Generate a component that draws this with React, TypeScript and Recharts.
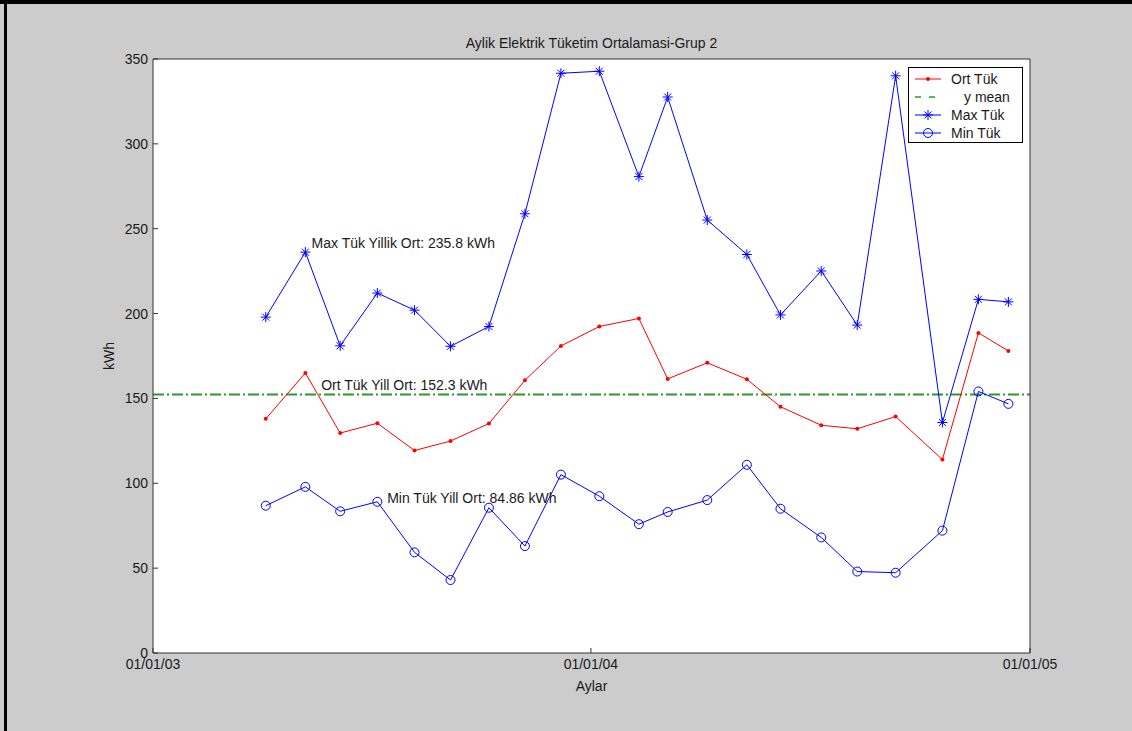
import { LineChart, Line, XAxis, YAxis, CartesianGrid, ReferenceLine, ReferenceDot } from 'recharts'

const dates = [
  '2003-04-05', '2003-05-08', '2003-06-06', '2003-07-07', '2003-08-07', '2003-09-06', '2003-10-08',
  '2003-11-07', '2003-12-07', '2004-01-08', '2004-02-10', '2004-03-05', '2004-04-07', '2004-05-10',
  '2004-06-07', '2004-07-11', '2004-08-10', '2004-09-11', '2004-10-20', '2004-11-19', '2004-12-14',
]
const ortTuk = [138, 165, 129.6, 135.4, 119.3, 124.9, 135.2, 160.7, 180.9, 192.4, 197.1, 161.5, 171, 161.3, 145.1, 134.2, 132.1, 139.3, 114, 188.6, 178]
const maxTuk = [197.9, 236.2, 181, 212.1, 202, 180.7, 192.4, 258.8, 341.6, 342.8, 280.7, 327.6, 255.1, 234.8, 199.2, 225.1, 193.2, 340.1, 135.8, 208.4, 206.9]
const minTuk = [86.8, 97.9, 83.5, 89.1, 59.3, 43, 85.6, 63, 105.1, 92.4, 75.9, 83.1, 90.1, 110.9, 85, 68.1, 48, 47.3, 72.1, 154.1, 146.8]
const yMean = 152.3

const xTickDates = ['2003-01-01', '2004-01-01', '2005-01-01']
const yTicks = [0, 50, 100, 150, 200, 250, 300, 350]

const notes = [
  { date: '2003-05-09', value: 241.8, text: 'Max Tük Yillik Ort: 235.8 kWh' },
  { date: '2003-05-17', value: 157.9, text: 'Ort Tük Yill Ort: 152.3 kWh' },
  { date: '2003-07-11', value: 91.5, text: 'Min Tük Yill Ort: 84.86 kWh' },
]

const ts = (d: string) => Date.parse(d + 'T00:00:00Z')
const xTicks = xTickDates.map(ts)
const data = dates.map((d, i) => ({ t: ts(d), ort: ortTuk[i], max: maxTuk[i], min: minTuk[i] }))

const fmtDate = (v: number) => {
  const d = new Date(v)
  const p = (n: number) => String(n).padStart(2, '0')
  return `${p(d.getUTCMonth() + 1)}/${p(d.getUTCDate())}/${p(d.getUTCFullYear() % 100)}`
}

const FONT = '"Liberation Sans", Arial, sans-serif'
const FS = 14
const TXT = '#1a1a1a'
const AX = '#333'
const BLUE = '#0000ff'
const RED = '#ff0000'
const GREEN = '#2f962f'

function Star(props: any) {
  const { cx, cy } = props
  if (cx == null || cy == null) return null
  const a = 5, b = 3.5
  return (
    <g stroke={BLUE} strokeWidth={1}>
      <line x1={cx - a} y1={cy} x2={cx + a} y2={cy} />
      <line x1={cx} y1={cy - a} x2={cx} y2={cy + a} />
      <line x1={cx - b} y1={cy - b} x2={cx + b} y2={cy + b} />
      <line x1={cx - b} y1={cy + b} x2={cx + b} y2={cy - b} />
    </g>
  )
}

function LegendBox() {
  const rows = [
    { name: 'Ort Tük', indent: 0, icon: <><line x1={0} y1={6} x2={26} y2={6} stroke={RED} /><circle cx={13} cy={6} r={2} fill={RED} /></> },
    { name: 'y mean', indent: 13, icon: <line x1={0} y1={6} x2={26} y2={6} stroke={GREEN} strokeWidth={1.5} strokeDasharray="6 8" /> },
    { name: 'Max Tük', indent: 0, icon: <><line x1={0} y1={6} x2={26} y2={6} stroke={BLUE} /><Star cx={13} cy={6} /></> },
    { name: 'Min Tük', indent: 0, icon: <><line x1={0} y1={6} x2={26} y2={6} stroke={BLUE} /><circle cx={13} cy={6} r={4.5} fill="none" stroke={BLUE} /></> },
  ]
  return (
    <div style={{ position: 'absolute', left: 908, top: 67, width: 115, height: 76, border: '1px solid #000', background: '#fff', boxSizing: 'border-box' }}>
      {rows.map((r, i) => (
        <div key={r.name} style={{ position: 'absolute', left: 6, top: 4 + i * 18, height: 14, display: 'flex', alignItems: 'center' }}>
          <svg width={26} height={12} style={{ overflow: 'visible' }}>{r.icon}</svg>
          <span style={{ marginLeft: 10 + r.indent, fontFamily: FONT, fontSize: FS, color: TXT, whiteSpace: 'nowrap' }}>{r.name}</span>
        </div>
      ))}
    </div>
  )
}

export default function App() {
  const tickStyle = { fontFamily: FONT, fontSize: FS, fill: TXT }
  return (
    <div style={{ position: 'absolute', left: 0, top: 0, width: 1132, height: 731, background: '#cccccc', overflow: 'hidden' }}>
      <div style={{ position: 'absolute', left: 0, top: 0, width: 1132, height: 4, background: '#000' }} />
      <div style={{ position: 'absolute', left: 4, top: 0, width: 3, height: 731, background: '#000' }} />
      <div style={{ position: 'absolute', left: 153, width: 877, top: 35, textAlign: 'center', fontFamily: FONT, fontSize: FS, color: TXT }}>
        Aylik Elektrik Tüketim Ortalamasi-Grup 2
      </div>
      <div style={{ position: 'absolute', left: 0, top: 0 }}>
        <LineChart width={1132} height={731} data={data} margin={{ top: 58, right: 101, bottom: 40, left: 93 }}>
          <rect x={153} y={59} width={877} height={594} fill="#fff" />
          <CartesianGrid stroke="#222" strokeDasharray="3 2" horizontalValues={yTicks.slice(1, -1)} verticalValues={xTicks.slice(1, -1)} />
          <XAxis dataKey="t" type="number" domain={[xTicks[0], xTicks[2]]} ticks={xTicks} tickFormatter={fmtDate}
            height={38} tickSize={-5} tickMargin={11} stroke={AX} tick={tickStyle} allowDataOverflow
            label={{ value: 'Aylar', position: 'insideBottom', offset: 0, style: { fontFamily: FONT, fontSize: FS, fill: TXT } }} />
          <XAxis xAxisId="top" orientation="top" dataKey="t" type="number" domain={[xTicks[0], xTicks[2]]} ticks={xTicks}
            height={1} tickSize={-5} tick={false} stroke={AX} allowDataOverflow />
          <YAxis domain={[0, 350]} ticks={yTicks} width={60} tickSize={-5} tickMargin={10} stroke={AX} tick={tickStyle}
            label={{ value: 'kWh', angle: -90, position: 'insideLeft', offset: 16, style: { textAnchor: 'middle', fontFamily: FONT, fontSize: FS, fill: TXT } }} />
          <YAxis yAxisId="right" orientation="right" domain={[0, 350]} ticks={yTicks} width={1} tickSize={-5} tick={false} stroke={AX} />
          <ReferenceLine y={yMean} stroke={GREEN} strokeWidth={2} strokeDasharray="11 3 2 3" />
          <Line dataKey="ort" stroke={RED} strokeWidth={1} isAnimationActive={false}
            dot={{ r: 2, fill: RED, stroke: RED, strokeWidth: 0 }} activeDot={false} />
          <Line dataKey="max" stroke={BLUE} strokeWidth={1} isAnimationActive={false} dot={<Star />} activeDot={false} />
          <Line dataKey="min" stroke={BLUE} strokeWidth={1} isAnimationActive={false}
            dot={{ r: 4.5, fill: 'none', stroke: BLUE, strokeWidth: 1 }} activeDot={false} />
          {notes.map((n) => (
            <ReferenceDot key={n.text} x={ts(n.date)} y={n.value} r={0} fill="none" stroke="none"
              label={{ value: n.text, position: 'right', offset: 5, style: { fontFamily: FONT, fontSize: FS, fill: TXT } }} />
          ))}
        </LineChart>
      </div>
      <LegendBox />
    </div>
  )
}
